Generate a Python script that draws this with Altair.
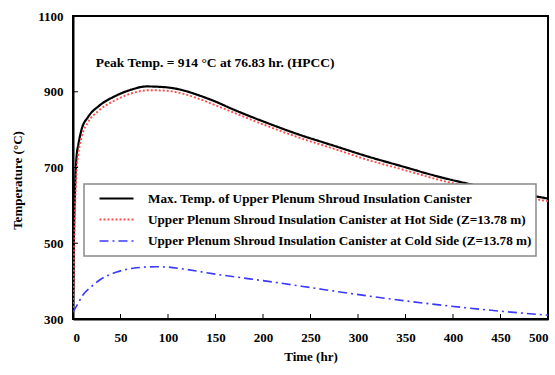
import altair as alt
import pandas as pd

# ---- data ----
t_black = [0, 0.5, 1, 2, 3, 4, 5.6, 9, 16, 27, 44, 62, 77, 97, 114, 132, 149, 169, 204, 239, 274, 309, 348, 383, 418, 460, 500]
v_black = [330, 420, 520, 630, 700, 735, 760, 800, 834, 862, 888, 906, 914, 912, 905, 891, 875, 853, 818, 786, 758, 730, 702, 677, 656, 636, 618]

t_red = [0, 0.5, 1, 2, 3, 4, 5.6, 9, 16, 27, 44, 62, 80, 97, 114, 134, 169, 204, 239, 274, 309, 348, 383, 418, 460, 500]
v_red = [330, 380, 460, 580, 650, 700, 735, 780, 820, 850, 877, 896, 904, 903, 896, 880, 845, 810, 778, 750, 721, 694, 669, 648, 628, 611]

t_blue = [0, 5, 10, 20, 28, 46, 63, 87, 100, 116, 151, 186, 215, 242, 313, 383, 453, 500]
v_blue = [318, 340, 362, 387, 403, 424, 434, 438, 437, 432, 418, 406, 396, 386, 360, 338, 320, 310]

series_names = [
    "Max. Temp. of Upper Plenum Shroud Insulation Canister",
    "Upper Plenum Shroud Insulation Canister at Hot Side (Z=13.78 m)",
    "Upper Plenum Shroud Insulation Canister at Cold Side (Z=13.78 m)",
]
x_ticks = [0, 50, 100, 150, 200, 250, 300, 350, 400, 450, 500]
y_ticks = [300, 500, 700, 900, 1100]
annotation = "Peak Temp. = 914 °C at 76.83 hr. (HPCC)"
ann_t, ann_v = 24, 976

rows = []
for name, ts, vs in zip(series_names, [t_black, t_red, t_blue], [v_black, v_red, v_blue]):
    for i, (t, v) in enumerate(zip(ts, vs)):
        rows.append({"series": name, "t": t, "v": v, "order": i})
df = pd.DataFrame(rows)

FONT = "Liberation Serif"
W, H = 475, 303

xs = alt.Scale(domain=[0, 500], nice=False)
ys = alt.Scale(domain=[300, 1100], nice=False)

lines = alt.Chart(df).mark_line(interpolate="monotone", clip=True).encode(
    x=alt.X("t:Q", scale=xs,
            axis=alt.Axis(values=x_ticks, title="Time (hr)", ticks=False, grid=False, format="d",
                          labelPadding=12, titlePadding=6)),
    y=alt.Y("v:Q", scale=ys,
            axis=alt.Axis(values=y_ticks, title="Temperature (°C)", ticks=False, grid=False, format="d",
                          labelPadding=10, titlePadding=13, titleY=164)),
    order="order:Q",
    color=alt.Color("series:N",
                    scale=alt.Scale(domain=series_names, range=["#000000", "#ff4d4d", "#3a3aff"]),
                    legend=alt.Legend(title=None, orient="none", legendX=32, legendY=171,
                                      symbolType="M-1.7,0H1.7", symbolSize=400, symbolStrokeWidth=1.8,
                                      labelFont=FONT, labelFontSize=13.2, labelFontWeight="bold",
                                      labelOffset=20, rowPadding=3.5, padding=0,
                                      labelLimit=600)),
    strokeDash=alt.StrokeDash("series:N",
                              scale=alt.Scale(domain=series_names, range=[[1, 0], [2, 2], [9, 4, 2, 4]]),
                              legend=None),
    strokeWidth=alt.StrokeWidth("series:N",
                                scale=alt.Scale(domain=series_names, range=[2.2, 1.6, 1.6]),
                                legend=None),
)

tick_df_x = pd.DataFrame({"t": x_ticks[1:-1]})
tick_df_y = pd.DataFrame({"v": y_ticks[1:-1]})
xtick_marks = alt.Chart(tick_df_x).mark_rule(color="black", strokeWidth=1).encode(
    x=alt.X("t:Q", scale=xs), y=alt.value(H), y2=alt.value(H - 5))
ytick_marks = alt.Chart(tick_df_y).mark_rule(color="black", strokeWidth=1).encode(
    y=alt.Y("v:Q", scale=ys), x=alt.value(0), x2=alt.value(5))

legend_box = alt.Chart(pd.DataFrame({"a": [0]})).mark_rect(
    fill="white", stroke="#8a8a8a", strokeWidth=1.5).encode(
    x=alt.value(11), x2=alt.value(463), y=alt.value(168), y2=alt.value(240))

ann = alt.Chart(pd.DataFrame({"t": [ann_t], "v": [ann_v], "label": [annotation]})).mark_text(
    align="left", baseline="middle", font=FONT, fontSize=13.5, fontWeight="bold", color="black").encode(
    x=alt.X("t:Q", scale=xs), y=alt.Y("v:Q", scale=ys), text="label:N")

chart = alt.layer(lines, legend_box, xtick_marks, ytick_marks, ann).properties(
    width=W, height=H,
    padding={"left": 73, "top": 16, "right": 7, "bottom": 56},
    autosize=alt.AutoSizeParams(type="none"),
).configure_view(
    stroke="black", strokeWidth=2
).configure_axis(
    domainColor="black", domainWidth=2,
    labelFont=FONT, labelFontSize=13, labelFontWeight="bold", labelColor="black",
    titleFont=FONT, titleFontSize=13, titleFontWeight="bold", titleColor="black",
)

chart.save("out.html", embed_options={"renderer": "svg", "actions": False})
